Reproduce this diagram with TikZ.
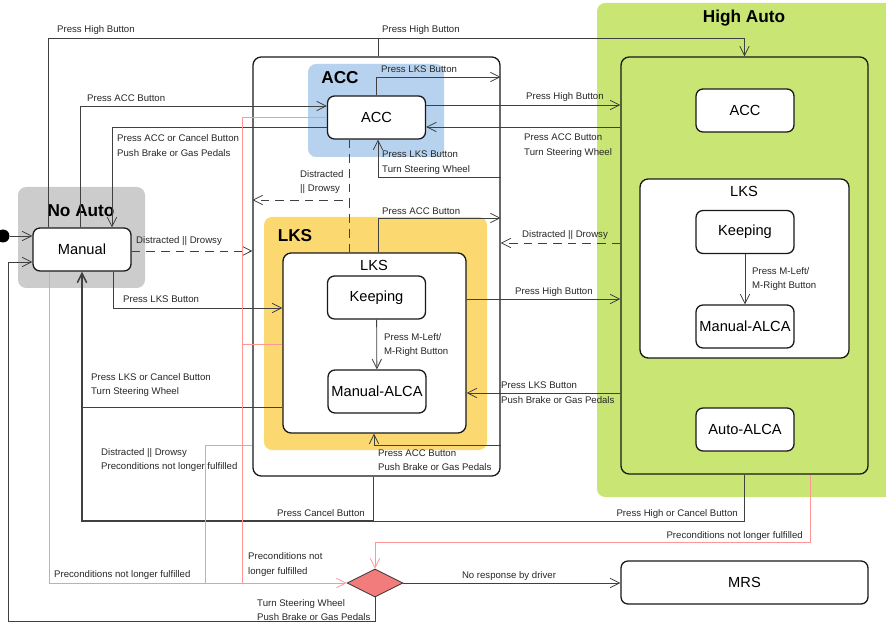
\documentclass[tikz,border=0pt]{standalone}
\usepackage{fontspec}
\setmainfont{Liberation Sans}
\usetikzlibrary{arrows.meta,shapes.geometric}

\definecolor{noautogray}{RGB}{204,204,204}
\definecolor{accblue}{RGB}{183,210,238}
\definecolor{lksyellow}{RGB}{251,216,112}
\definecolor{highgreen}{RGB}{201,229,115}
\definecolor{failred}{RGB}{255,150,150}
\definecolor{decred}{RGB}{242,124,124}

\tikzset{wh/.style 2 args={minimum width=#1*0.03cm,minimum height=#2*0.03cm,inner sep=0pt}}

\begin{document}
\begin{tikzpicture}
  [x=0.03cm,y=-0.03cm,
   every node/.style={font=\fontsize{12.5}{14}\selectfont},
   rgn/.style={rounded corners=7pt},
   stbox/.style={draw=black!90,line width=1.1pt,fill=white,rounded corners=6pt,wh={98}{43}},
   grpbox/.style={draw=black!90,line width=1.1pt,rounded corners=7pt},
   ttl/.style={font=\fontsize{14.7}{16}\selectfont\bfseries},
   lbl/.style={anchor=west,inner sep=0pt,align=left,text=black!85,font=\fontsize{8.2}{12.3}\selectfont},
   tr/.style={draw=black!75,line width=0.7pt,-{Straight Barb[length=2.8mm,width=2.8mm]}},
   ln/.style={draw=black!75,line width=0.7pt},
   dsh/.style={tr,dash pattern=on 2.6mm off 1.8mm},
   fail/.style={draw=failred,line width=0.7pt},
   failtr/.style={fail,-{Straight Barb[length=2.8mm,width=2.8mm]}}]

  \useasboundingbox (0,0) rectangle (886,623);

  % regions and composite states
  \node[rgn,fill=noautogray,wh={127}{101}] (noauto) at (81.5,237.5) {};
  \node[rgn,fill=highgreen,wh={303}{494}] (high) at (748.5,250) {};
  \node[grpbox,fill=highgreen,wh={247}{417}] (hain) at (744.5,265.5) {};
  \node[grpbox,fill=white,wh={209}{179}] (halks) at (744.5,268.5) {};
  \node[grpbox,fill=white,wh={247}{419}] (outer) at (376.5,266.5) {};
  \node[rgn,fill=accblue,wh={136}{93}] (accreg) at (376,110.5) {};
  \node[rgn,fill=lksyellow,wh={223}{233}] (lksreg) at (375.5,333.5) {};
  \node[grpbox,fill=white,wh={183}{180}] (lks) at (374.5,343) {};

  \node[ttl] (t1) at (81,211) {No Auto};
  \node[ttl] (t2) at (340,78) {ACC};
  \node[ttl] (t3) at (295,236) {LKS};
  \node[ttl] (t4) at (744,18) {High Auto};
  \node (t5) at (374,265) {LKS};
  \node (t6) at (744,191) {LKS};

  % states
  \node[circle,fill=black,wh={13}{13}] (init) at (3,236) {};
  \node[stbox] (manual) at (82,249.5) {Manual};
  \node[stbox] (acc) at (376.5,117.5) {ACC};
  \node[stbox] (keep) at (376.5,297.5) {Keeping};
  \node[stbox] (malca) at (377,391.5) {Manual-ALCA};
  \node[stbox] (haacc) at (745,110.5) {ACC};
  \node[stbox] (hakeep) at (745,232) {Keeping};
  \node[stbox] (hamalca) at (745,326.5) {Manual-ALCA};
  \node[stbox] (autoalca) at (745,429.5) {Auto-ALCA};
  \node[stbox,wh={247}{43}] (mrs) at (744.5,582.5) {MRS};
  \node[diamond,draw=black!80,line width=0.7pt,fill=decred,wh={56}{28}] (dec) at (375,583) {};

  % transitions of No Auto
  \draw[tr] (init) -- (manual.west |- init);
  \draw[tr] (manual.north -| 48,0) |- (hain.north |- 0,38) -- (hain.north);
  \draw[ln] (outer.north -| 378,0) -- (378,38);
  \draw[tr] (manual.north -| 80,0) |- (acc.west |- 0,106);
  \draw[tr] (acc.west |- 0,127) -| (manual.north -| 112,0);
  \draw[dsh] (manual.east |- 0,251) -- (outer.west |- 0,251);
  \draw[tr] (manual.south -| 113,0) |- (lks.west |- 0,308);
  \draw[ln] (lks.west |- 0,407) -- (manual.south |- 0,407);
  \coordinate (cj) at (373,521);
  \draw[ln] (hain.south) |- (cj);
  \draw[ln] (outer.south -| cj) -- (cj);
  \draw[tr,line width=1.3pt] (cj) -- (manual.south |- cj) -- (manual.south);
  \draw[tr] (dec.south) |- (8,621) |- (manual.west |- 0,262);

  % transitions of ACC
  \draw[tr] (acc.north) |- (outer.east |- 0,77);
  \draw[tr] (outer.east |- 0,177) -| (acc.south -| 378,0);
  \draw[tr] (acc.east |- 0,105) -- (hain.west |- 0,105);
  \draw[tr] (hain.west |- 0,127) -- (acc.east |- 0,127);
  \coordinate (dj) at (349,200);
  \draw[dsh,-] (acc.south -| dj) -- (dj);
  \draw[dsh] (lks.north -| dj) -- (dj) -- (outer.west |- dj);

  % transitions of LKS
  \draw[tr] (lks.north -| 378,0) |- (outer.east |- 0,218);
  \draw[dsh] (hain.west |- 0,243) -- (outer.east |- 0,243);
  \draw[tr] (lks.east |- 0,299) -- (hain.west |- 0,299);
  \draw[tr] (hain.west |- 0,393) -- (lks.east |- 0,393);
  \draw[tr] (outer.east |- 0,445) -| (lks.south -| 374,0);
  \draw[tr] (keep) -- (malca);
  \draw[tr] (hakeep) -- (hamalca);
  \draw[tr] (dec.east) -- (mrs.west |- dec.east);

  % failures
  \draw[failtr] (manual.south -| 49,0) |- (dec.west);
  \draw[fail] (acc.west) -| (242,583);
  \draw[fail] (lks.west |- 0,344) -- (242,344);
  \draw[fail] (outer.west |- 0,445) -| (205,583);
  \draw[failtr] (hain.south -| 810,0) |- (dec.north |- 0,542) -- (dec.north);

  % labels
  \node[lbl] (l1) at (57,30) {Press High Button};
  \node[lbl] (l2) at (382,30) {Press High Button};
  \node[lbl] (l3) at (87,98) {Press ACC Button};
  \node[lbl] (l4) at (117,145.5) {Press ACC or Cancel Button\\Push Brake or Gas Pedals};
  \node[lbl] (l5) at (381,69.5) {Press LKS Button};
  \node[lbl] (l6) at (526,97) {Press High Button};
  \node[lbl] (l7) at (524,145.5) {Press ACC Button\\Turn Steering Wheel};
  \node[lbl] (l8) at (382,162.5) {Press LKS Button\\Turn Steering Wheel};
  \node[lbl] (l9) at (300,182) {Distracted\\|| Drowsy};
  \node[lbl] (l10) at (136,241) {Distracted || Drowsy};
  \node[lbl] (l11) at (382,211) {Press ACC Button};
  \node[lbl] (l12) at (522,235) {Distracted || Drowsy};
  \node[lbl] (l13) at (123,299.5) {Press LKS Button};
  \node[lbl] (l14) at (515,292) {Press High Button};
  \node[lbl] (l15) at (384,345) {Press M-Left/\\M-Right Button};
  \node[lbl] (l16) at (752,279) {Press M-Left/\\M-Right Button};
  \node[lbl] (l17) at (91,385) {Press LKS or Cancel Button\\Turn Steering Wheel};
  \node[lbl] (l18) at (501,392.5) {Press LKS Button\\Push Brake or Gas Pedals};
  \node[lbl] (l19) at (378,460) {Press ACC Button\\Push Brake or Gas Pedals};
  \node[lbl] (l20) at (101,460) {Distracted || Drowsy\\Preconditions not longer fulfilled};
  \node[lbl,anchor=east] (l21) at (365,513) {Press Cancel Button};
  \node[lbl,anchor=east] (l22) at (738,514) {Press High or Cancel Button};
  \node[lbl,anchor=east] (l23) at (803,536) {Preconditions not longer fulfilled};
  \node[lbl] (l24) at (248,564.5) {Preconditions not\\longer fulfilled};
  \node[lbl] (l25) at (54,575) {Preconditions not longer fulfilled};
  \node[lbl,anchor=center] (l26) at (509,576) {No response by driver};
  \node[lbl] (l27) at (257,610) {Turn Steering Wheel\\Push Brake or Gas Pedals};

\end{tikzpicture}
\end{document}
